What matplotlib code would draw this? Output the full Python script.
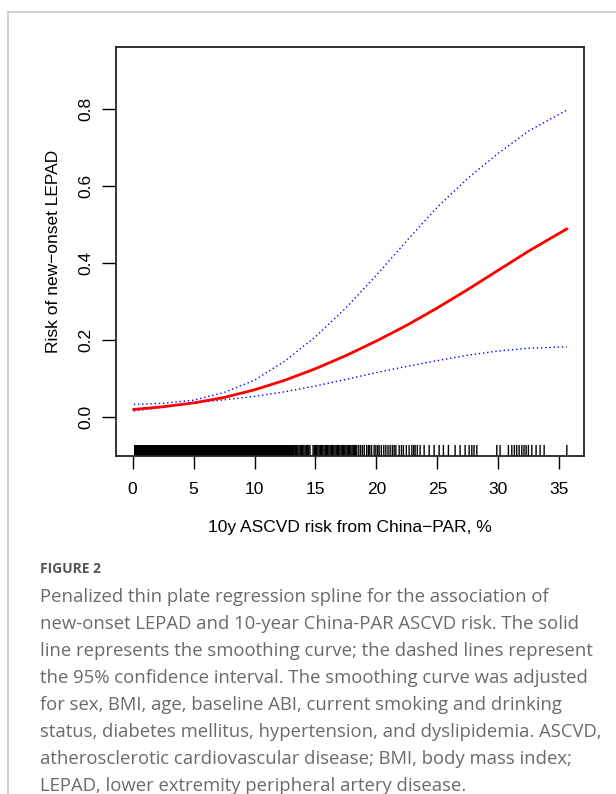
import matplotlib
matplotlib.use('Agg')
import matplotlib.pyplot as plt
from matplotlib.patches import Rectangle
from matplotlib.lines import Line2D

# smoothing curve and 95% CI
risk_x = [0.1, 2.5, 5, 7.5, 10, 12.5, 15, 17.5, 20, 22.5, 25, 27.5, 30, 32.5, 35.6]
fit_y = [0.019, 0.026, 0.036, 0.050, 0.070, 0.095, 0.125, 0.159, 0.197, 0.238, 0.283, 0.331, 0.381, 0.431, 0.488]
upper_y = [0.032, 0.035, 0.043, 0.063, 0.095, 0.145, 0.208, 0.283, 0.368, 0.458, 0.545, 0.620, 0.685, 0.743, 0.797]
lower_y = [0.015, 0.025, 0.036, 0.044, 0.053, 0.065, 0.080, 0.097, 0.115, 0.131, 0.146, 0.160, 0.171, 0.178, 0.182]

# rug: solid block of observations, then single ticks
rug_solid = (0.08, 13.2)
rug_x = [13.25, 13.35, 13.45, 13.55, 13.65, 13.75, 13.85, 13.95, 14.05, 14.15, 14.25,
         14.35, 14.45, 14.55, 14.8, 14.9, 15.0, 15.1, 15.2, 15.3, 15.4, 15.5, 15.6,
         15.7, 15.8, 15.9, 16.0, 16.1, 16.2, 16.3, 16.4, 16.5, 16.6, 16.7, 16.8, 16.9,
         17.0, 17.1, 17.2, 17.3, 17.4, 17.5, 17.6, 17.7, 17.8, 17.9, 18.0, 18.1, 18.2,
         18.3, 18.39, 18.55, 18.7, 18.85, 19.0, 19.2, 19.34, 19.45, 19.6, 19.81, 19.95,
         20.1, 20.22, 20.4, 20.6, 20.77, 20.95, 21.12, 21.3, 21.45, 21.59, 21.86, 22.05,
         22.21, 22.45, 22.68, 22.9, 23.05, 23.17, 23.35, 23.58, 23.91, 24.32, 24.73,
         25.14, 25.49, 25.9, 26.45, 26.86, 27.27, 27.6, 27.82, 28.0, 28.23, 29.87, 30.14,
         30.82, 31.1, 31.31, 31.5, 31.7, 31.92, 32.1, 32.27, 32.46, 32.74, 33.09, 33.42,
         33.75, 35.61]

x_ticks = [0, 5, 10, 15, 20, 25, 30, 35]
y_ticks = [0.0, 0.2, 0.4, 0.6, 0.8]

caption_title = "FIGURE 2"
caption_lines = [
    "Penalized thin plate regression spline for the association of",
    "new-onset LEPAD and 10-year China-PAR ASCVD risk. The solid",
    "line represents the smoothing curve; the dashed lines represent",
    "the 95% confidence interval. The smoothing curve was adjusted",
    "for sex, BMI, age, baseline ABI, current smoking and drinking",
    "status, diabetes mellitus, hypertension, and dyslipidemia. ASCVD,",
    "atherosclerotic cardiovascular disease; BMI, body mass index;",
    "LEPAD, lower extremity peripheral artery disease.",
]

W, H = 616, 794
fig = plt.figure(figsize=(W / 100, H / 100), dpi=100)
ax = fig.add_axes([116 / W, 1 - 456 / H, (584 - 116) / W, (456 - 47) / H])

ax.plot(risk_x, upper_y, color='blue', lw=1, linestyle=(0, (1, 2)))
ax.plot(risk_x, lower_y, color='blue', lw=1, linestyle=(0, (1, 2)))
ax.plot(risk_x, fit_y, color='red', lw=2)

rug_h = 0.027
ax.add_patch(Rectangle((rug_solid[0], 0), rug_solid[1] - rug_solid[0], rug_h,
                       transform=ax.get_xaxis_transform(), color='black', lw=0))
rug = ax.vlines(rug_x, 0, rug_h, transform=ax.get_xaxis_transform(), color='black', lw=1.0)
rug.set_snap(False)

ax.set_xlim(-1.36, 37.02)
ax.set_ylim(-0.102, 0.961)
ax.set_xticks(x_ticks)
ax.set_yticks(y_ticks)
ax.set_xticklabels([str(t) for t in x_ticks], fontsize=12.5, family='Liberation Sans')
ax.set_yticklabels(['%.1f' % t for t in y_ticks], fontsize=12.5, family='Liberation Sans',
                   rotation=90, va='center')
ax.tick_params(axis='x', length=9, width=1, pad=10)
ax.tick_params(axis='y', length=10, width=1, pad=6)
for s in ax.spines.values():
    s.set_linewidth(1.3)
    s.set_color('#222222')

ax.set_xlabel('10y ASCVD risk from China\u2212PAR, %', fontsize=12.5,
              family='Liberation Sans', labelpad=16)
ax.set_ylabel('Risk of new\u2212onset LEPAD', fontsize=12.5,
              family='Liberation Sans', labelpad=13)

# page frame
fig.add_artist(Line2D([8 / W, 1], [1 - 12 / H, 1 - 12 / H], transform=fig.transFigure,
                      color='#c8c8c8', lw=1.2))
fig.add_artist(Line2D([8 / W, 8 / W], [1 - 12 / H, 0], transform=fig.transFigure,
                      color='#c8c8c8', lw=1.2))

fig.text(40 / W, 1 - 569 / H, caption_title, fontsize=10, color='#555555',
         family='Open Sans', weight='bold', va='center')
for i, line in enumerate(caption_lines):
    fig.text(40 / W, 1 - (597 + 27 * i) / H, line, fontsize=13.3, color='#6a6a6a',
             family='Open Sans', va='center')

fig.savefig('out.png', dpi=100)
